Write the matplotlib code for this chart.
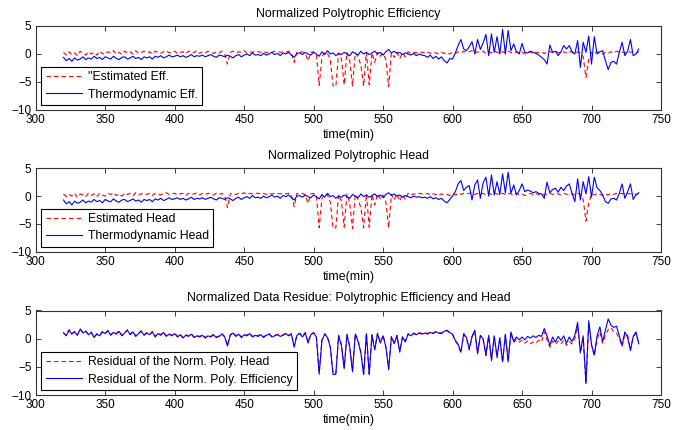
import matplotlib
matplotlib.use("Agg")
import matplotlib.pyplot as plt

plt.rcParams['font.family'] = ['Liberation Sans', 'DejaVu Sans']
plt.rcParams['lines.scale_dashes'] = False

time_min = list(range(320, 736, 2))

est_eff = [
    0.3, -0.2, 0.4, -0.1, 0.2, -0.3, 0.5, 0.1, -0.2, 0.4,
    0.0, 0.3, -0.2, 0.5, 0.1, -0.1, 0.4, 0.2, 0.6, 0.0,
    0.3, -0.1, 0.5, 0.2, 0.4, 0.0, 0.6, 0.1, 0.3, 0.5,
    0.2, 0.4, 0.0, 0.5, 0.3, 0.1, 0.4, 0.6, 0.2, 0.3,
    0.5, 0.1, 0.3, 0.4, 0.0, 0.5, 0.2, 0.3, 0.6, 0.1,
    0.4, 0.2, 0.5, 0.3, 0.1, 0.4, 0.2, 0.5, 0.0, -1.8,
    0.3, 0.5, 0.2, 0.4, 0.3, 0.6, 0.2, 0.4, 0.3, 0.5,
    0.4, 0.3, 0.5, 0.2, 0.4, 0.3, 0.5, 0.4, 0.3, 0.4,
    0.3, 0.5, 0.2, -1.5, 0.4, 0.3, 0.4, 0.1, -1.2, 0.3,
    0.4, 0.0, -5.6, -0.5, 0.3, 0.1, -1.0, -5.7, -5.8, 0.2,
    -0.8, -5.5, 0.3, -1.2, -5.7, 0.2, -0.5, -2.0, -5.7, 0.3,
    -5.5, 0.2, -1.5, 0.3, -0.4, 0.1, -1.0, -5.8, 0.2, -0.6,
    0.3, -0.8, 0.2, -0.5, 0.4, 0.1, 0.3, 0.2, 0.4, 0.3,
    0.2, 0.4, 0.1, 0.3, 0.2, 0.0, 0.3, 0.1, 0.2, 0.0,
    0.3, 0.1, 0.4, 0.2, 0.5, 0.3, 0.4, 0.6, 0.2, 0.4,
    0.3, 0.5, 0.1, 0.4, 0.2, 0.6, 0.3, 0.1, 0.4, 0.2,
    0.5, 0.3, 0.1, 0.4, 0.2, 0.3, 0.0, 0.2, 0.4, 0.1,
    0.3, 0.2, 0.4, 0.1, 0.3, 0.5, 0.2, 0.4, 0.3, 0.1,
    0.4, 0.2, 0.5, 0.3, 0.1, 0.4, 0.2, -0.5, -4.2, -1.0,
    0.3, 0.1, 0.4, 0.2, 0.0, 0.3, 0.1, 0.4, 0.2, 0.5,
    0.3, 0.4, 0.2, 0.5, 0.3, 0.4, 0.2, 0.4,
]

thermo_eff = [
    -0.6, -1.2, -0.8, -1.3, -0.7, -1.1, -0.9, -0.5, -1.0, -0.7,
    -0.9, -0.4, -0.8, -0.6, -1.0, -0.5, -0.7, -0.9, -0.4, -0.8,
    -1.0, -0.6, -0.5, -0.9, -0.7, -0.4, -0.8, -0.6, -1.0, -0.5,
    -0.7, -0.5, -0.9, -0.4, -0.6, -0.3, -0.7, -0.5, -0.2, -0.5,
    -0.4, -0.2, -0.5, -0.3, -0.6, -0.4, -0.1, -0.5, -0.3, -0.4,
    -0.2, -0.5, -0.3, -0.1, -0.4, -0.6, -0.2, -0.3, -0.5, -0.2,
    -0.4, -0.7, -0.3, -0.1, -0.5, -0.2, 0.0, -0.3, 0.2, -0.2,
    -0.1, -0.3, 0.1, -0.2, 0.0, 0.3, -0.1, 0.1, -0.3, 0.2,
    0.0, 0.3, -0.2, -0.6, 0.1, 0.2, -0.1, 0.3, 0.0, -0.2,
    0.3, 0.0, -0.4, 0.4, -0.1, 0.6, 0.0, 0.2, -0.3, 0.1,
    -0.1, 0.3, 0.0, -0.3, 0.4, 0.1, -0.2, 0.5, 0.0, 0.3,
    -0.1, 0.2, 0.5, 0.0, 0.3, -0.2, 0.4, 0.8, 0.2, 0.5,
    0.1, 0.3, -0.1, 0.2, 0.0, -0.2, 0.1, -0.3, 0.0, -0.2,
    -0.3, -0.6, -0.2, -0.8, -0.4, -0.9, -0.5, -1.2, -1.6, -0.8,
    -0.9, 0.2, 1.5, 2.6, 0.9, 0.6, 1.3, 2.2, 0.0, 2.6,
    0.8, 2.0, 3.5, -0.3, 3.6, 0.3, 3.1, 0.0, 4.4, 0.0,
    4.2, 0.6, 1.8, 0.4, 0.0, 1.9, 0.3, 0.2, 0.5, 0.3,
    0.1, -0.2, -0.6, -1.0, -1.8, 1.6, 0.3, 0.5, -0.3, 0.4,
    1.5, 0.9, 1.5, 0.4, 0.0, 2.4, -2.4, 2.1, 0.3, 3.2,
    -1.8, 3.1, 0.0, 0.4, 0.6, -1.2, -2.8, -1.5, -1.3, -1.8,
    0.3, 2.1, -0.3, 0.5, 2.6, -0.3, 0.0, 0.9,
]

est_head = [
    0.4, -0.1, 0.3, 0.0, 0.5, -0.2, 0.4, 0.2, -0.1, 0.5,
    0.1, 0.4, -0.1, 0.5, 0.2, 0.0, 0.5, 0.3, 0.6, 0.1,
    0.4, 0.0, 0.5, 0.3, 0.5, 0.1, 0.6, 0.2, 0.4, 0.5,
    0.3, 0.5, 0.1, 0.5, 0.4, 0.2, 0.5, 0.6, 0.3, 0.4,
    0.5, 0.2, 0.4, 0.5, 0.1, 0.5, 0.3, 0.4, 0.6, 0.2,
    0.5, 0.3, 0.5, 0.4, 0.2, 0.5, 0.3, 0.5, 0.1, -2.1,
    0.4, 0.5, 0.3, 0.5, 0.4, 0.6, 0.3, 0.5, 0.4, 0.5,
    0.5, 0.4, 0.5, 0.3, 0.5, 0.4, 0.5, 0.5, 0.4, 0.5,
    0.4, 0.5, 0.3, -1.9, 0.5, 0.4, 0.5, 0.2, -1.3, 0.4,
    0.5, 0.1, -5.7, -0.4, 0.4, 0.2, -1.1, -5.8, -5.7, 0.3,
    -0.9, -5.6, 0.4, -1.3, -5.8, 0.3, -0.6, -2.1, -5.7, 0.4,
    -5.6, 0.3, -1.6, 0.4, -0.5, 0.2, -1.1, -5.7, 0.3, -0.7,
    0.4, -0.9, 0.3, -0.6, 0.5, 0.2, 0.4, 0.3, 0.5, 0.4,
    0.3, 0.5, 0.2, 0.4, 0.3, 0.1, 0.4, 0.2, 0.3, 0.1,
    0.4, 0.2, 0.5, 0.3, 0.5, 0.4, 0.5, 0.6, 0.3, 0.5,
    0.4, 0.5, 0.2, 0.5, 0.3, 0.6, 0.4, 0.2, 0.5, 0.3,
    0.5, 0.4, 0.2, 0.5, 0.3, 0.4, 0.1, 0.3, 0.5, 0.2,
    0.4, 0.3, 0.5, 0.2, 0.4, 0.5, 0.3, 0.5, 0.4, 0.2,
    0.5, 0.3, 0.5, 0.4, 0.2, 0.5, 0.3, -0.6, -4.5, -1.2,
    0.4, 0.2, 0.5, 0.3, 0.1, 0.4, 0.2, 0.5, 0.3, 0.5,
    0.4, 0.5, 0.3, 0.5, 0.4, 0.5, 0.3, 0.5,
]

thermo_head = [
    -0.7, -1.4, -1.0, -1.6, -0.9, -1.3, -1.1, -0.7, -1.2, -0.9,
    -1.1, -0.6, -1.0, -0.8, -1.2, -0.6, -0.9, -1.0, -0.5, -0.9,
    -1.1, -0.7, -0.6, -1.0, -0.8, -0.5, -0.9, -0.7, -1.1, -0.6,
    -0.8, -0.6, -1.0, -0.5, -0.7, -0.4, -0.8, -0.6, -0.3, -0.6,
    -0.5, -0.3, -0.6, -0.4, -0.7, -0.5, -0.2, -0.6, -0.4, -0.5,
    -0.3, -0.6, -0.4, -0.2, -0.5, -0.7, -0.3, -0.4, -0.6, -0.3,
    -0.5, -0.8, -0.4, -0.2, -0.6, -0.3, -0.1, -0.4, 0.1, -0.3,
    -0.2, -0.4, 0.0, -0.3, -0.1, 0.2, -0.2, 0.0, -0.4, 0.1,
    -0.1, 0.2, -0.3, -0.7, 0.0, 0.1, -0.2, 0.2, -0.1, -0.3,
    0.2, -0.1, -0.5, 0.3, -0.2, 0.5, -0.1, 0.1, -0.4, 0.0,
    -0.2, 0.2, -0.1, -0.4, 0.3, 0.0, -0.3, 0.4, -0.1, 0.2,
    -0.2, 0.1, 0.4, -0.1, 0.2, -0.3, 0.3, 0.6, 0.1, 0.4,
    0.0, 0.2, -0.2, 0.1, -0.1, -0.3, 0.0, -0.2, -0.1, -0.3,
    -0.2, -0.4, -0.1, -0.5, -0.3, -0.6, -0.4, -0.9, -1.2, -0.6,
    0.0, 0.8, 2.2, 2.8, 1.0, 1.6, 1.9, -0.7, 2.0, 2.9,
    -0.4, 2.4, 3.4, 0.0, 3.8, 0.2, 2.6, 0.3, 4.0, 0.6,
    4.3, 0.5, 2.0, 0.2, 1.0, 2.2, 0.8, 1.1, 0.9, 0.6,
    0.8, 0.5, 0.4, -0.4, 2.5, 0.6, 1.2, 1.4, 0.7, 1.6,
    1.0, 1.8, 2.2, 0.5, -1.0, 3.1, -0.7, 2.6, 0.4, 3.5,
    -0.2, 3.4, 1.5, 1.0, 0.2, -1.0, -1.3, -0.5, -0.4, -0.7,
    0.5, 2.2, -0.4, 0.8, 2.2, -0.6, 0.2, 0.6,
]

resid_head = [
    1.1, 0.6, 1.6, 0.9, 1.3, 0.7, 1.8, 1.1, 1.4, 0.8,
    1.2, 0.3, 0.9, 0.6, 1.3, 1.0, 1.5, 0.7, 1.2, 0.9,
    1.4, 0.6, 1.1, 1.6, 0.8, 1.3, 0.5, 1.0, 1.4, 0.7,
    1.1, 0.8, 1.3, 0.4, 1.0, 0.7, 1.2, 0.5, 0.9, 0.6,
    1.0, 0.4, 0.8, 0.2, 0.7, 0.5, 0.9, 0.3, 0.6, 0.4,
    0.7, 0.2, 0.6, 0.4, 0.8, 0.3, 0.5, 0.9, 0.4, -1.2,
    0.7, 1.1, 0.5, 0.9, 0.3, 0.8, 0.6, 1.0, 0.4, 0.7,
    0.5, 0.8, 0.3, 0.7, 0.9, 0.4, 0.6, 0.8, 0.5, 0.7,
    1.0, 0.6, 0.9, -1.3, 0.7, 1.0, 0.4, 1.1, -0.6, 0.8,
    1.1, 0.4, -6.1, -0.2, 0.9, 0.3, -1.3, -6.2, -6.1, 0.6,
    -1.0, -5.1, 0.8, -1.3, -5.7, 0.9, -0.3, -2.3, -6.2, 1.0,
    -6.2, 0.7, -1.8, 1.0, -0.6, 0.6, -1.3, -5.3, 0.4, -0.7,
    0.6, -2.2, 0.4, -0.4, 0.9, 0.6, 1.0, 0.8, 1.1, 0.9,
    1.1, 0.9, 1.2, 1.0, 1.3, 1.1, 1.0, 1.4, 1.4, 1.0,
    0.7, -0.4, -1.2, -2.5, 0.7, 0.1, -2.0, 0.3, 1.3, -2.7,
    0.5, -0.2, -3.0, 0.4, -3.9, 0.3, -3.4, 0.0, -4.2, 0.6,
    -4.0, 1.0, -0.7, -0.1, -0.6, -0.3, -0.8, -0.4, -0.9, -0.6,
    -0.8, -0.3, -0.6, 1.2, -0.2, -1.5, -0.4, -1.0, -0.4, -0.9,
    -0.3, -1.2, -0.5, -0.9, 0.0, 2.2, -2.6, 0.0, -8.0, 2.5,
    -1.3, -3.0, 0.0, 1.2, -0.8, 0.6, 1.6, 2.0, 1.2, 1.0,
    0.0, -1.4, 0.8, 0.6, -2.0, 0.3, 1.0, -0.8,
]

resid_eff = [
    1.0, 0.5, 1.5, 0.8, 1.2, 0.6, 1.7, 1.0, 1.3, 0.7,
    1.1, 0.2, 0.8, 0.5, 1.2, 0.9, 1.4, 0.6, 1.1, 0.8,
    1.3, 0.5, 1.0, 1.5, 0.7, 1.2, 0.4, 0.9, 1.3, 0.6,
    1.0, 0.7, 1.2, 0.3, 0.9, 0.6, 1.1, 0.4, 0.8, 0.5,
    0.9, 0.3, 0.7, 0.1, 0.6, 0.4, 0.8, 0.2, 0.5, 0.3,
    0.6, 0.1, 0.5, 0.3, 0.7, 0.2, 0.4, 0.8, 0.3, -1.3,
    0.6, 1.0, 0.4, 0.8, 0.2, 0.7, 0.5, 0.9, 0.3, 0.6,
    0.4, 0.7, 0.2, 0.6, 0.8, 0.3, 0.5, 0.7, 0.4, 0.6,
    0.9, 0.5, 0.8, -1.5, 0.6, 0.9, 0.3, 1.0, -0.8, 0.7,
    1.0, 0.3, -6.3, -0.3, 0.8, 0.2, -1.5, -6.4, -6.3, 0.5,
    -1.2, -5.3, 0.7, -1.5, -5.9, 0.8, -0.5, -2.5, -6.4, 0.9,
    -6.4, 0.6, -2.0, 0.9, -0.8, 0.5, -1.5, -5.5, 0.3, -0.9,
    0.5, -2.4, 0.3, -0.6, 0.8, 0.5, 0.9, 0.7, 1.0, 0.8,
    1.0, 0.8, 1.1, 0.9, 1.2, 1.0, 0.9, 1.3, 1.5, 1.1,
    0.8, -0.3, -1.0, -2.4, 0.9, 0.2, -1.8, 0.4, 1.5, -2.6,
    0.6, 0.0, -2.9, 0.6, -3.8, 0.5, -3.2, 0.2, -4.1, 0.8,
    -4.1, 1.2, -0.5, 0.3, -0.2, 0.3, -0.2, 0.4, 0.1, 0.5,
    0.2, 0.6, 0.4, 1.8, 0.5, -1.2, 0.3, -0.6, 0.4, -0.3,
    0.5, -0.8, 0.3, -0.5, 0.6, 2.9, -2.4, 0.5, -7.9, 3.2,
    -1.0, -2.9, 0.5, 2.1, -0.5, 1.5, 3.5, 2.4, 2.0, 2.2,
    0.5, -1.2, 1.2, 0.2, -2.1, 0.4, 1.2, -0.9,
]

titles = [
    "Normalized Polytrophic Efficiency",
    "Normalized Polytrophic Head",
    "Normalized Data Residue: Polytrophic Efficiency and Head",
]
red_labels = ['"Estimated Eff.', "Estimated Head", "Residual of the Norm. Poly. Head"]
blue_labels = ["Thermodynamic Eff.", "Thermodynamic Head", "Residual of the Norm. Poly. Efficiency"]
red_series = [est_eff, est_head, resid_head]
blue_series = [thermo_eff, thermo_head, resid_eff]
x_ticks = [300, 350, 400, 450, 500, 550, 600, 650, 700, 750]
y_ticks = [-10, -5, 0, 5]

W, H = 686, 430
fig = plt.figure(figsize=(W / 100, H / 100), dpi=100)
fig.patch.set_facecolor("white")

# axes boxes in pixels: (left, top, right, bottom)
boxes = [(35.7, 26, 661, 110), (35.7, 168.3, 661, 251.7), (35.7, 310.5, 661, 395)]
fs = 8.2
fs_title = 8.9

for i in range(3):
    l, t, r, b = boxes[i]
    ax = fig.add_axes([l / W, 1 - b / H, (r - l) / W, (b - t) / H])
    ax.plot(time_min, red_series[i], color="red", lw=0.8, linestyle=(0, (3.2, 2.2)),
            label=red_labels[i])
    ax.plot(time_min, blue_series[i], color="blue", lw=0.8, label=blue_labels[i])
    ax.set_xlim(300, 750)
    ax.set_ylim(-10, 5)
    ax.set_xticks(x_ticks)
    ax.set_yticks(y_ticks)
    ax.tick_params(direction="in", top=True, right=True, length=3.5, width=0.6,
                   labelsize=fs + 0.3, pad=3, colors="#222222", labelcolor="black")
    for sp in ax.spines.values():
        sp.set_color("#333333")
        sp.set_linewidth(0.8)
    ax.set_title(titles[i], fontsize=fs_title, pad=6.5)
    ax.set_xlabel("time(min)", fontsize=fs_title, labelpad=2)
    leg = ax.legend(loc="lower left", bbox_to_anchor=(0.009, 0.06), borderaxespad=0,
                    fontsize=fs + 0.6, fancybox=False, edgecolor="black",
                    handlelength=3.0, handletextpad=0.45, labelspacing=0.45,
                    borderpad=0.35, framealpha=1)
    leg.get_frame().set_linewidth(0.8)

fig.savefig("out.png", dpi=100, facecolor="white")
